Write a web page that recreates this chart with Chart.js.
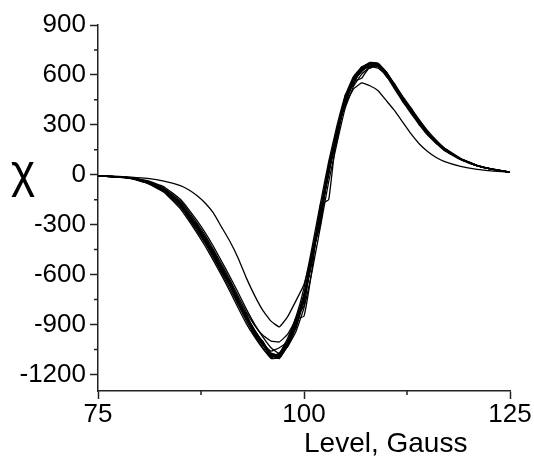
<!DOCTYPE html>
<html>
<head>
<meta charset="utf-8">
<title>Chi vs level</title>
<script src="https://cdn.jsdelivr.net/npm/chart.js@4"></script>
<style>
  html, body { margin: 0; padding: 0; background: #fff; }
  #wrap { width: 534px; height: 460px; }
</style>
</head>
<body>
<div id="wrap"><canvas id="chiChart" width="534" height="460"></canvas></div>
<script>
// ── data ────────────────────────────────────────────────────
const xTitle = 'Level, Gauss';
const yTitle = 'χ';
const xTicks = [75, 100, 125];
const xMinor = [87.5, 112.5];
const yTicks = [-1200, -900, -600, -300, 0, 300, 600, 900];
const yMinor = [-1050, -750, -450, -150, 150, 450, 750];

const levels = [75, 77, 79, 81, 83, 85, 86, 87, 88, 89, 90, 91, 92, 93, 94, 95, 96, 97, 98, 99,
  100, 101, 102, 103, 104, 105, 106, 107, 108, 109, 110, 111, 112, 113, 114, 115, 116, 117, 119, 121, 123, 125];

// bundle of repeated scans
const scanA = [-8, -12, -20, -45, -90, -175, -240, -310, -385, -470, -560, -650, -750, -850, -935, -1010, -1080, -1080, -1010, -900,
  -740, -500, -240, 20, 240, 440, 560, 625, 655, 655, 605, 530, 455, 385, 315, 250, 200, 155, 95, 55, 32, 15];
const scanB = [-8, -13, -24, -52, -105, -205, -275, -350, -428, -515, -605, -700, -800, -895, -975, -1045, -1100, -1075, -985, -860,
  -680, -430, -170, 80, 295, 475, 590, 648, 668, 650, 595, 515, 438, 368, 300, 238, 190, 146, 90, 53, 31, 15];
const scanC = [-7, -11, -17, -36, -72, -148, -208, -275, -348, -430, -520, -612, -708, -808, -898, -975, -1040, -1075, -1035, -945,
  -800, -575, -310, -40, 190, 400, 530, 605, 645, 655, 615, 545, 470, 400, 330, 265, 210, 162, 99, 57, 33, 16];
const scanD = [-8, -13, -21, -44, -92, -182, -250, -300, -400, -462, -575, -640, -765, -845, -950, -1020, -1100, -1070, -1030, -880,
  -760, -460, -280, 60, 230, 470, 545, 640, 648, 665, 598, 540, 440, 392, 305, 255, 192, 158, 94, 55, 32, 15];
const scanE = [-9, -12, -20, -46, -90, -178, -245, -318, -392, -478, -568, -660, -760, -858, -945, -1018, -1088, -1100, -1025, -915,
  -735, -490, -235, 25, 250, 445, 565, 632, 662, 660, 610, 532, 455, 385, 318, 252, 200, 155, 94, 55, 32, 15];
const scanF = [-8, -12, -22, -45, -88, -172, -238, -305, -380, -465, -555, -645, -748, -848, -935, -1008, -1075, -1085, -1020, -870,
  -850, -560, -180, -150, 270, 420, 560, 580, 650, 640, 600, 540, 455, 395, 320, 255, 200, 160, 95, 55, 32, 15];
const scanG = [-7, -11, -19, -42, -85, -168, -232, -302, -378, -462, -552, -645, -745, -845, -932, -1005, -1072, -1085, -1018, -905,
  -745, -505, -245, 15, 238, 438, 558, 628, 660, 662, 612, 536, 460, 390, 320, 255, 203, 157, 96, 56, 33, 16];
const scanH = [-8, -12, -21, -47, -95, -188, -255, -325, -402, -488, -578, -668, -768, -866, -950, -1022, -1090, -1088, -1005, -888,
  -715, -465, -205, 52, 270, 460, 578, 642, 670, 665, 612, 530, 450, 378, 310, 246, 196, 152, 93, 54, 31, 15];
const scanI = [-8, -12, -20, -40, -95, -165, -255, -300, -395, -455, -580, -640, -770, -835, -955, -1000, -1095, -1075, -1000, -925,
  -730, -515, -225, 5, 255, 430, 570, 620, 665, 648, 615, 520, 462, 378, 322, 245, 205, 150, 95, 55, 32, 15];
const scanJ = [-8, -12, -21, -44, -86, -176, -242, -314, -390, -475, -565, -656, -755, -852, -940, -1012, -1082, -1092, -1022, -908,
  -738, -495, -238, 22, 246, 448, 568, 635, 662, 660, 608, 532, 456, 386, 316, 250, 199, 154, 94, 55, 32, 15];
const scanK = [-8, -12, -20, -43, -84, -170, -236, -306, -382, -467, -558, -650, -752, -852, -940, -1015, -1085, -1105, -1030, -920,
  -760, -510, -250, 10, 235, 435, 555, 625, 658, 660, 612, 535, 460, 390, 320, 254, 202, 156, 95, 55, 32, 15];
const scanL = [-8, -12, -21, -44, -88, -178, -245, -316, -392, -478, -570, -662, -762, -860, -946, -1020, -1090, -1082, -1008, -895,
  -728, -482, -222, 35, 262, 462, 580, 645, 675, 670, 615, 535, 455, 382, 312, 248, 198, 152, 93, 54, 31, 15];
const scanM = [-8, -12, -21, -50, -100, -195, -262, -338, -410, -500, -590, -685, -782, -878, -965, -1040, -1105, -1100, -1030, -915,
  -750, -505, -245, 20, 250, 450, 572, 640, 670, 668, 618, 538, 460, 388, 318, 252, 200, 155, 95, 55, 32, 15];
const scanN = [-7, -12, -19, -40, -80, -158, -220, -290, -365, -448, -538, -630, -728, -825, -905, -965, -1000, -1005, -960, -870,
  -725, -490, -230, 30, 255, 445, 562, 630, 658, 655, 605, 528, 452, 382, 314, 250, 199, 154, 94, 55, 32, 15];
const scanP = [-8, -12, -22, -46, -96, -180, -262, -320, -410, -480, -585, -655, -775, -850, -960, -1025, -1060, -1040, -1005, -860,
  -790, -470, -300, 55, 200, 480, 540, 650, 640, 660, 590, 545, 445, 400, 300, 260, 190, 160, 93, 55, 32, 15];
// the one broader, shallower scan
const scanWide = [-6, -9, -14, -22, -38, -65, -90, -125, -170, -230, -315, -400, -500, -620, -725, -815, -880, -915, -855, -760,
  -660, -470, -220, 40, 260, 420, 515, 552, 535, 505, 445, 385, 315, 245, 185, 140, 105, 80, 50, 32, 22, 15];

const scans = [scanA, scanB, scanC, scanD, scanE, scanF, scanG, scanH, scanI, scanJ, scanK, scanL, scanM, scanN, scanP, scanWide];

// ── extras: minor ticks, χ and x title ──────────────────────
const extras = {
  id: 'extras',
  afterDraw(chart) {
    const { ctx } = chart;
    const sx = chart.scales.x, sy = chart.scales.y;
    ctx.save();
    ctx.strokeStyle = '#222';
    ctx.lineWidth = 1.5;
    ctx.beginPath();
    yMinor.forEach(v => {
      const p = sy.getPixelForValue(v);
      ctx.moveTo(sx.left - 4, p); ctx.lineTo(sx.left, p);
    });
    xMinor.forEach(v => {
      const p = sx.getPixelForValue(v);
      ctx.moveTo(p, sy.bottom); ctx.lineTo(p, sy.bottom + 4);
    });
    ctx.stroke();

    ctx.fillStyle = '#000';
    ctx.textBaseline = 'alphabetic';
    ctx.font = '46px "Liberation Sans", Arial, sans-serif';
    ctx.textAlign = 'center';
    ctx.fillText(yTitle, 23, sy.getPixelForValue(0) + 12);

    ctx.font = '28px "Liberation Sans", Arial, sans-serif';
    ctx.textAlign = 'left';
    ctx.fillText(xTitle, sx.getPixelForValue(100), 452);
    ctx.restore();
  }
};

const tickFont = { family: '"Liberation Sans", Arial, sans-serif', size: 26 };

new Chart(document.getElementById('chiChart'), {
  type: 'line',
  data: {
    datasets: scans.map(s => ({
      data: s.map((v, i) => ({ x: levels[i], y: v })),
      borderColor: '#000',
      borderWidth: 1.3,
      pointRadius: 0,
      tension: 0.1,
      fill: false
    }))
  },
  options: {
    responsive: false,
    animation: false,
    layout: { padding: { left: 0, right: 24, top: 25, bottom: 0 } },
    plugins: { legend: { display: false }, tooltip: { enabled: false } },
    scales: {
      x: {
        type: 'linear', min: 75, max: 125,
        afterFit: s => { s.height = 69; },
        afterBuildTicks: s => { s.ticks = xTicks.map(v => ({ value: v })); },
        ticks: { color: '#000', font: tickFont, padding: 0, maxRotation: 0, callback: v => String(v) },
        grid: { drawOnChartArea: false, tickLength: 8, tickColor: '#222', tickWidth: 1.5 },
        border: { color: '#222', width: 1.5 }
      },
      y: {
        type: 'linear', min: -1300, max: 900,
        afterFit: s => { s.width = 98; },
        afterBuildTicks: s => { s.ticks = yTicks.map(v => ({ value: v })); },
        ticks: { color: '#000', font: tickFont, padding: 4, callback: v => String(v) },
        grid: { drawOnChartArea: false, tickLength: 8, tickColor: '#222', tickWidth: 1.5 },
        border: { color: '#222', width: 1.5 }
      }
    }
  },
  plugins: [extras]
});
</script>
</body>
</html>
